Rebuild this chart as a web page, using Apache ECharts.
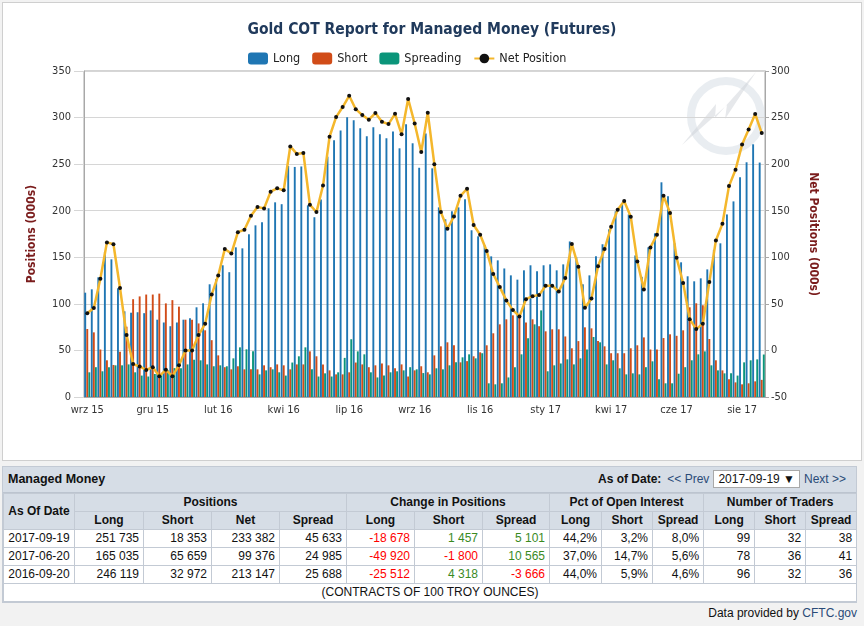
<!DOCTYPE html>
<html>
<head>
<meta charset="utf-8">
<script src="https://cdn.jsdelivr.net/npm/echarts@6/dist/echarts.min.js"></script>
<style>
  html, body { margin: 0; padding: 0; background: #f2f2f2; width: 864px; height: 626px; overflow: hidden; }
  #wrap { position: absolute; left: 2px; top: 2px; width: 858px; height: 457px; border: 1px solid #cfcfcf; background: #fff; }
  #chart { width: 858px; height: 457px; }
  #box { position: absolute; left: 2px; top: 466px; width: 853px; border: 1px solid #c3cad4; background: #fff;
         font-family: 'Liberation Sans', Arial, sans-serif; font-size: 12px; color: #111; }
  #bar { height: 25px; background: #d6dde6; border-bottom: 1px solid #bcc4cf; position: relative; }
  #bar .ttl { position: absolute; left: 5px; top: 5px; font-weight: bold; font-size: 12.5px; }
  #bar .nav { position: absolute; right: 10px; top: 3px; line-height: 18px; }
  #bar .nav b { margin-right: 6px; }
  #bar .nav a { color: #2a4b78; text-decoration: none; }
  #bar .sel { display: inline-block; border: 1px solid #a9a9a9; background: #fff; padding: 0 4px; margin: 0 4px; height: 16px; line-height: 16px; }
  table { border-collapse: collapse; width: 853px; table-layout: fixed; }
  td, th { border: 1px solid #c3cad4; height: 17px; padding: 0 4px; line-height: 17px; }
  th { background: #d6dde6; font-weight: bold; text-align: center; }
  td { text-align: right; white-space: nowrap; }
  td.d { text-align: center; }
  td.neg { color: #ff0000; }
  td.pos { color: #3a8a1f; }
  td.foot { text-align: center; }
  #src { position: absolute; right: 7px; top: 606px; font-family: 'Liberation Sans', Arial, sans-serif; font-size: 12px; color: #111; }
  #src a { color: #2a4b78; text-decoration: none; }
</style>
</head>
<body>
<div id="wrap"><div id="chart"></div></div>
<div id="box">
  <div id="bar">
    <span class="ttl">Managed Money</span>
    <span class="nav"><b>As of Date:</b><a>&lt;&lt; Prev</a><span class="sel">2017-09-19 &#9660;</span><a>Next &gt;&gt;</a></span>
  </div>
  <table id="tbl"></table>
</div>
<div id="src">Data provided by <a>CFTC.gov</a></div>
<script>
// weekly reports 2015-09-29 .. 2017-09-19, thousands of contracts
const startDate = '2015-09-29';
const weekCount = 104;
const tickLabels = ['wrz 15', 'gru 15', 'lut 16', 'kwi 16', 'lip 16', 'wrz 16', 'lis 16', 'sty 17', 'kwi 17', 'cze 17', 'sie 17'];

const longPos = [
  112, 115.6, 128.5, 156, 147.8, 116.7, 92, 90.5, 91, 90,
  93, 83, 80, 76, 80, 83, 84.5, 96.3, 100.6, 121,
  126.7, 141.4, 134, 160.7, 159.6, 174.7, 184.3, 187.5, 202.6, 209,
  207, 248, 247, 247.5, 205.8, 193, 212, 258, 275.6, 286,
  300.3, 297, 288.5, 280, 289.5, 282, 277.7, 285, 267, 292.8,
  272.4, 246.1, 283, 245.5, 203.6, 190.8, 199.4, 203.6, 212.2, 179,
  172.5, 162.8, 151, 146.7, 138, 130.6, 126, 136, 141.4, 135,
  141.4, 142.4, 136, 142.4, 167, 150, 121, 130.6, 151, 164,
  180, 199.4, 207, 196, 152, 129, 160.7, 175.7, 230.5, 215.5,
  165.0, 144.6, 129.6, 124.2, 127.4, 137, 158, 165, 196, 210,
  236, 252, 271.3, 251.7
];
const shortPos = [
  73, 69.4, 51, 39.4, 34.4, 48.7, 75.5, 105, 108, 110,
  110, 111, 100.5, 104, 97, 83, 83, 79, 71.6, 61,
  44.7, 32, 29.7, 33, 29.7, 29.7, 29.7, 34, 32, 35,
  34, 29.7, 35, 35, 49, 43.7, 35, 28.6, 24.3, 24.3,
  26.5, 37, 35, 32, 34, 36, 34, 31, 35, 22,
  28.6, 33.0, 26.5, 44.7, 54.4, 58.7, 55.5, 37.2, 38.5, 43.7,
  48, 55.5, 68.4, 78, 83.4, 87.7, 89, 80, 83.4, 76,
  70.5, 72.7, 72.7, 65, 52.3, 60, 74.8, 73.7, 60, 54.4,
  47, 47, 47, 52.3, 55.5, 64, 51, 51, 63.3, 67.3,
  65.7, 71.6, 96.3, 100.6, 98.5, 62.3, 39.4, 28.6, 19, 15.7,
  13.6, 14.7, 16.8, 18.4
];
const spreadPos = [
  26.5, 32, 27.6, 32, 34, 34, 35, 26.5, 23, 22,
  24.7, 24.3, 28.6, 31, 31, 35, 40, 39.4, 35, 33,
  34, 33, 41.5, 53.3, 51.2, 49, 24.3, 28.6, 29.7, 26.5,
  23, 37, 43.7, 53.3, 29.7, 22, 25.4, 22, 26.5, 42,
  62, 49, 45.8, 26.5, 21, 23, 26.5, 27.6, 28.6, 32,
  29.7, 25.7, 24.3, 30.8, 29.7, 34, 37.2, 42.6, 45.8, 41.5,
  47, 14.7, 13.6, 14.7, 21, 32, 45.8, 63, 78, 93,
  27.6, 34, 36, 40.4, 35, 41.5, 51, 64.4, 58.7, 35,
  39.4, 30.8, 24.3, 25.4, 24.3, 32, 38.3, 19, 14.7, 14.7,
  25.0, 32, 39.4, 45.8, 49, 34, 28.6, 25.4, 25.4, 23,
  37.2, 39.4, 40.4, 45.6
];
const netPos = [
  40, 45.5, 77, 116, 114, 67, 16.5, -14.7, -17.2, -21,
  -18, -27.6, -20.8, -27.6, -16, 0, 0, 16.5, 28.6, 60,
  80.5, 108.8, 104, 127, 129.6, 144.6, 154, 152.5, 170.4, 174,
  172, 219, 211, 212, 156.4, 148.5, 177, 229.4, 250.5, 261.3,
  273.4, 259, 252.7, 247.7, 254.8, 245.5, 243, 254, 232, 270,
  243.6, 213.1, 255.2, 200, 148.5, 130.6, 143.9, 166, 173.6, 134.6,
  124.2, 106.7, 82, 68, 53.7, 43.3, 36.5, 55, 58.3, 59.4,
  69.4, 69.4, 63.3, 77.7, 114.2, 89.8, 45.8, 55.8, 90.5, 108.8,
  132.8, 151, 160.3, 143.5, 95.6, 65.5, 110.6, 124.2, 166, 147.5,
  99.4, 72.3, 33.6, 22.9, 28.6, 73.4, 118, 136, 176.4, 194,
  221, 237.3, 253.8, 233.4
];

const tableHead = ['As Of Date', 'Positions', 'Change in Positions', 'Pct of Open Interest', 'Number of Traders'];
const tableSub = ['Long', 'Short', 'Net', 'Spread', 'Long', 'Short', 'Spread', 'Long', 'Short', 'Spread', 'Long', 'Short', 'Spread'];
const tableRows = [
  ['2017-09-19', '251 735', '18 353', '233 382', '45 633', '-18 678', '1 457', '5 101', '44,2%', '3,2%', '8,0%', '99', '32', '38'],
  ['2017-06-20', '165 035', '65 659', '99 376', '24 985', '-49 920', '-1 800', '10 565', '37,0%', '14,7%', '5,6%', '78', '36', '41'],
  ['2016-09-20', '246 119', '32 972', '213 147', '25 688', '-25 512', '4 318', '-3 666', '44,0%', '5,9%', '4,6%', '96', '32', '36']
];
const tableNote = '(CONTRACTS OF 100 TROY OUNCES)';
const colWidths = [71, 69, 68, 68, 67, 68, 68, 67, 52, 51, 51, 51, 51, 51];

// table
let html = '<colgroup>' + colWidths.map(w => `<col style="width:${w}px">`).join('') + '</colgroup>';
html += `<tr><th rowspan="2">${tableHead[0]}</th><th colspan="4">${tableHead[1]}</th><th colspan="3">${tableHead[2]}</th>` +
        `<th colspan="3">${tableHead[3]}</th><th colspan="3">${tableHead[4]}</th></tr>`;
html += '<tr>' + tableSub.map(s => `<th>${s}</th>`).join('') + '</tr>';
tableRows.forEach(r => {
  html += '<tr>' + r.map((v, i) => {
    let cls = i === 0 ? 'd' : '';
    if (i >= 5 && i <= 7) cls = v.startsWith('-') ? 'neg' : 'pos';
    return `<td class="${cls}">${v}</td>`;
  }).join('') + '</tr>';
});
html += `<tr><td class="foot" colspan="14">${tableNote}</td></tr>`;
document.getElementById('tbl').innerHTML = html;

// week categories
const weeks = [];
const d0 = new Date(startDate + 'T00:00:00Z');
for (let i = 0; i < weekCount; i++) {
  const d = new Date(d0.getTime() + i * 7 * 86400000);
  weeks.push(d.toISOString().slice(0, 10));
}

const condensed = "'DejaVu Sans Condensed', 'Liberation Sans Narrow', Roboto, sans-serif";
const chart = echarts.init(document.getElementById('chart'));

const option = {
  animation: false,
  textStyle: { fontFamily: condensed },
  title: {
    text: 'Gold COT Report for Managed Money (Futures)',
    left: 'center',
    top: 14,
    textStyle: { fontFamily: condensed, fontSize: 15.5, fontWeight: 'bold', color: '#203a5c' }
  },
  legend: {
    left: 240,
    top: 44,
    itemWidth: 20,
    itemHeight: 12,
    itemGap: 12,
    textStyle: { fontFamily: condensed, fontSize: 12.5, color: '#222' },
    data: ['Long', 'Short', 'Spreading', 'Net Position']
  },
  grid: {
    left: 81, right: 96, top: 68, bottom: 63,
    show: true, borderColor: '#a8a8a8', borderWidth: 1
  },
  graphic: [
    {
      type: 'circle', left: 684, top: 74, silent: true, z: 0,
      shape: { r: 35 },
      style: { fill: 'none', stroke: 'rgba(212,219,227,0.5)', lineWidth: 8 }
    },
    {
      type: 'polygon', silent: true, z: 0,
      shape: { points: [[679, 142], [713, 101], [712, 115], [753, 69], [722, 116], [724, 102]] },
      style: { fill: 'rgba(205,210,216,0.5)' }
    }
  ],
  xAxis: {
    type: 'category',
    data: weeks,
    axisLine: { lineStyle: { color: '#a8a8a8' } },
    axisTick: { alignWithLabel: true, interval: 9, length: 4, lineStyle: { color: '#a8a8a8' } },
    axisLabel: {
      interval: 9, margin: 8, fontSize: 11, color: '#333', fontFamily: condensed,
      formatter: (v, i) => tickLabels[Math.round(i / 10)] || ''
    },
    splitLine: { show: false }
  },
  yAxis: [
    {
      type: 'value', min: 0, max: 350, interval: 50,
      name: 'Positions (000s)', nameLocation: 'middle', nameGap: 46,
      nameTextStyle: { fontFamily: condensed, fontSize: 12, fontWeight: 'bold', color: '#7a1c1c' },
      axisLine: { show: true, lineStyle: { color: '#a8a8a8' } },
      axisTick: { show: true, length: 10, lineStyle: { color: '#d6d6d6' } },
      axisLabel: { fontSize: 11, color: '#333', margin: 13, fontFamily: condensed },
      splitLine: { lineStyle: { color: '#d6d6d6' } }
    },
    {
      type: 'value', min: -50, max: 300, interval: 50, position: 'right',
      name: 'Net Positions (000s)', nameLocation: 'middle', nameGap: 42, nameRotate: -90,
      nameTextStyle: { fontFamily: condensed, fontSize: 12, fontWeight: 'bold', color: '#7a1c1c' },
      axisLine: { show: true, lineStyle: { color: '#a8a8a8' } },
      axisTick: { show: true, length: 4, lineStyle: { color: '#a8a8a8' } },
      axisLabel: { fontSize: 11, color: '#333', margin: 6, fontFamily: condensed },
      splitLine: { show: false }
    }
  ],
  series: [
    { name: 'Long', type: 'bar', data: longPos, barWidth: 1.9, barGap: '8%', itemStyle: { color: '#1f76b3' } },
    { name: 'Short', type: 'bar', data: shortPos, barWidth: 1.9, barGap: '8%', itemStyle: { color: '#d14c18' } },
    { name: 'Spreading', type: 'bar', data: spreadPos, barWidth: 1.9, barGap: '8%', itemStyle: { color: '#0b957a' } },
    {
      name: 'Net Position', type: 'line', yAxisIndex: 1, data: netPos,
      symbol: 'circle', symbolSize: 4, showAllSymbol: true,
      lineStyle: { color: '#f4b72c', width: 2.5 },
      itemStyle: { color: '#111', borderWidth: 0 },
      z: 5
    }
  ]
};

chart.setOption(option);
window.onresize = chart.resize;
</script>
</body>
</html>
